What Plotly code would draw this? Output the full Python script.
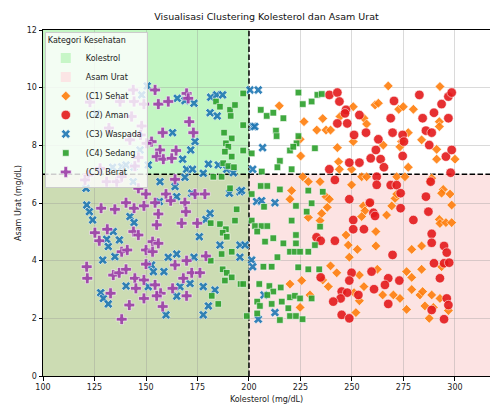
import plotly.graph_objects as go

# ---------------- data ----------------
title_text = "Visualisasi Clustering Kolesterol dan Asam Urat"
x_label = "Kolesterol (mg/dL)"
y_label = "Asam Urat (mg/dL)"
legend_title = "Kategori Kesehatan"
zone_names = ["Kolestrol", "Asam Urat"]
chol_threshold = 200
urat_threshold = 7
x_ticks = [100, 125, 150, 175, 200, 225, 250, 275, 300]
y_ticks = [0, 2, 4, 6, 8, 10, 12]

c1_name = "(C1) Sehat"
c1_x = [214.7, 226.7, 232.9, 235.8, 237.4, 239.6, 224.8, 225.1, 242.9, 243.5, 244.2, 250.6, 250.6, 255.8, 257.1,
        261.2, 262.8, 267.6, 272.7, 274.9, 279.8, 265.2, 274.1, 273.3, 277.3, 283.8, 291.1, 292.4, 292.4, 292.7,
        291.1, 300.0, 277.3, 243.9, 249.8, 226.1, 228.8, 234.5, 249.8, 254.7, 257.1, 271.7, 275.7, 287.9, 288.7,
        294.3, 220.7, 219.9, 237.4, 239.0, 228.8, 234.5, 235.3, 238.0, 255.5, 256.3, 254.7, 258.4, 266.8, 269.3,
        270.9, 271.7, 293.5, 297.6, 298.4, 292.4, 292.7, 295.6, 298.4, 247.1, 248.2, 252.6, 248.7, 261.6, 261.6,
        279.0, 283.8, 239.6, 242.6, 235.8, 238.5, 225.6, 219.9, 229.6, 224.8, 253.6, 255.8, 251.0, 253.6, 251.9,
        262.3, 264.9, 270.1, 273.3, 276.5, 279.0, 279.0, 283.0, 284.3, 288.7, 292.7, 283.8, 293.5, 285.4, 289.5,
        276.5, 287.5, 296.8]
c1_y = [9.37, 8.82, 8.53, 8.93, 8.53, 8.53, 8.21, 7.63, 7.92, 7.43, 9.00, 9.34, 8.13, 8.94, 8.74,
        9.40, 9.46, 10.06, 9.25, 9.34, 9.25, 8.01, 8.13, 7.95, 8.44, 8.19, 7.86, 8.82, 8.65, 10.04,
        7.52, 7.52, 7.24, 7.17, 7.17, 6.91, 6.74, 6.74, 6.63, 6.91, 6.91, 6.91, 6.91, 6.74, 6.86,
        6.47, 6.43, 6.13, 6.22, 6.13, 5.50, 5.39, 5.64, 5.85, 5.90, 5.73, 5.53, 6.00, 5.58, 5.90,
        6.16, 6.31, 6.34, 6.31, 5.93, 5.43, 5.29, 5.32, 5.32, 4.89, 4.54, 4.39, 4.12, 5.01, 4.51,
        4.39, 4.51, 3.82, 3.58, 3.33, 3.10, 3.31, 3.19, 2.81, 2.38, 3.50, 3.10, 2.89, 2.61, 2.20,
        3.70, 2.81, 2.81, 2.69, 3.62, 3.42, 3.00, 2.81, 2.93, 2.81, 2.69, 3.70, 3.79, 2.43, 2.38,
        2.31, 2.00, 2.27]

c2_name = "(C2) Aman"
c2_x = [239.0, 242.9, 243.9, 247.1, 246.6, 242.9, 247.7, 253.6, 256.8, 251.0, 262.8, 261.6, 259.1, 263.9, 265.5,
        270.4, 268.8, 269.7, 274.6, 275.2, 274.6, 282.7, 284.3, 285.9, 288.7, 289.8, 293.5, 296.8, 298.4, 296.8,
        287.5, 295.6, 298.4, 239.0, 248.7, 253.6, 262.0, 262.0, 241.7, 297.9, 288.2, 268.8, 271.7,
        248.7, 258.7, 260.4, 261.2, 273.6, 273.6, 285.9, 287.1, 279.8, 250.6, 250.6, 255.8, 232.8, 234.8, 241.7,
        288.7, 288.7, 294.7, 296.0, 269.7, 289.8, 294.7, 297.2, 292.7, 234.8, 249.8, 248.7, 259.5, 267.6, 273.0,
        266.0, 260.7, 245.0, 247.7, 244.5, 240.9, 253.1, 267.6, 296.0, 296.8, 288.7, 245.0, 248.7, 294.7]
c2_y = [9.75, 9.83, 9.52, 9.23, 9.11, 8.76, 8.76, 9.05, 8.44, 8.36, 8.21, 7.84, 7.55, 7.52, 7.24,
        9.54, 8.94, 8.44, 8.36, 8.13, 7.63, 9.75, 8.94, 8.51, 8.44, 9.13, 9.43, 9.69, 9.83, 8.94,
        8.01, 7.61, 7.84, 7.17, 7.40, 7.40, 6.91, 6.63, 6.80, 7.05, 6.74, 6.62, 6.62,
        6.13, 6.01, 5.66, 5.55, 6.34, 5.82, 6.22, 5.70, 5.41, 5.41, 5.09, 5.09, 4.81, 4.69, 4.69,
        4.93, 4.62, 4.51, 4.28, 4.20, 3.91, 3.91, 3.93, 3.39, 3.42, 3.58, 3.31, 3.62, 3.39, 3.31,
        3.16, 3.01, 2.93, 2.89, 2.69, 2.58, 2.81, 2.50, 2.69, 2.46, 2.29, 2.12, 2.00, 1.97]

c3_name = "(C3) Waspada"
c3_x = [200.5, 204.5, 202.0, 202.8, 206.6, 201.8,
        150.6, 147.9, 165.2, 168.9, 173.3, 181.4, 184.3, 187.2, 181.1, 184.6, 162.9, 173.8, 171.7, 147.1,
        167.8, 151.1, 133.8, 138.2, 140.3, 144.2, 169.7, 172.6, 177.8, 180.3, 185.1, 189.2, 192.4, 143.8,
        156.8, 120.9, 164.1, 168.9,
        164.9, 121.2, 122.5, 124.1, 142.2, 144.2, 134.1, 130.9, 137.1, 131.7, 134.9, 129.0, 152.7, 153.6,
        158.7, 160.8, 164.9, 173.3, 175.9, 179.1, 181.1, 185.9, 195.6, 195.6, 140.3, 151.1, 166.5, 171.4,
        177.8, 183.5, 164.9, 128.0, 129.3, 131.7, 159.7, 177.8, 180.3, 190.5, 195.6, 156.5, 172.2,
        196.4, 203.7, 206.1, 212.6, 198.1, 201.3, 201.8, 207.3, 212.6, 204.5, 126.0]
c3_y = [9.92, 9.92, 8.65, 8.65, 7.92, 7.17,
        10.06, 9.75, 9.63, 9.55, 9.46, 9.67, 9.75, 9.75, 9.13, 9.02, 8.44, 8.13, 7.84, 7.84,
        7.52, 7.32, 7.24, 7.26, 7.32, 7.24, 7.17, 7.17, 7.03, 7.35, 7.32, 7.17, 7.05, 6.74,
        6.74, 6.51, 6.57, 6.89,
        6.22, 5.93, 5.70, 5.41, 5.53, 5.32, 5.01, 4.74, 4.72, 4.49, 4.14, 4.02, 3.85, 3.62,
        3.62, 4.12, 4.23, 4.12, 4.83, 5.43, 5.64, 4.54, 4.54, 4.12, 3.12, 3.10, 3.10, 3.21,
        3.10, 2.98, 2.77, 2.89, 2.69, 2.50, 2.12, 2.12, 2.43, 6.34, 6.39, 6.05, 6.34,
        6.43, 6.05, 6.08, 6.01, 4.54, 4.02, 3.79, 2.81, 2.20, 1.97, 9.10]

c4_name = "(C4) Sedang"
c4_x = [197.2, 197.2, 197.2, 205.7, 208.6, 211.8, 216.7, 213.1, 213.4, 224.0, 226.1, 230.4, 233.2, 235.3, 224.0,
        223.1, 219.9, 221.5, 215.0, 213.8, 220.7, 232.0, 201.3, 206.2,
        184.0, 185.9, 190.8, 193.2, 191.1, 187.9, 191.6, 188.8, 190.0, 188.3, 191.6, 187.5, 190.0, 192.7, 182.7,
        186.7, 190.8,
        194.0, 193.2, 181.4, 185.9, 188.8, 187.2, 189.2, 191.6, 186.7, 181.4, 187.2, 189.2, 191.6, 188.3, 195.9,
        181.9, 185.1,
        205.7, 208.9, 215.0,
        201.3, 228.8, 235.8, 207.3, 222.8, 230.4, 228.0, 201.3, 202.9, 206.1, 208.9, 204.0, 220.7, 207.8, 211.8,
        216.7, 222.8, 222.8, 232.0, 219.9, 222.3, 224.8, 228.8, 234.5, 213.8, 207.0, 211.0, 223.9, 228.8, 234.1,
        197.2, 205.0, 209.9, 211.8, 215.4, 219.9, 222.3, 224.8, 208.9, 204.0, 205.3, 211.0, 215.9, 219.1, 204.0,
        219.9, 222.8, 226.0, 215.0, 198.9, 230.4]
c4_y = [9.80, 8.70, 7.82, 9.23, 9.02, 9.13, 8.94, 8.51, 8.32, 9.83, 9.43, 9.52, 9.75, 9.78, 8.32,
        8.07, 7.82, 7.95, 7.46, 7.24, 7.17, 7.90, 7.72, 7.09,
        9.52, 9.34, 9.23, 9.40, 9.02, 8.44, 8.24, 8.07, 7.95, 7.78, 7.61, 7.38, 7.28, 7.24, 6.91,
        6.91, 6.51,
        5.78, 5.39, 5.30, 5.27, 5.09, 4.97, 4.83, 4.31, 4.23, 4.00, 3.70, 3.58, 3.42, 3.31, 3.19,
        2.78, 2.50,
        6.59, 6.59, 6.47,
        6.31, 6.43, 6.39, 5.87, 5.90, 5.99, 5.70, 5.39, 5.20, 5.20, 5.20, 5.01, 5.39, 4.66, 4.78,
        4.60, 4.89, 4.60, 4.54, 4.31, 4.31, 4.31, 4.31, 5.18, 4.12, 3.79, 3.79, 3.77, 3.70, 3.70,
        3.19, 3.19, 3.12, 2.93, 3.07, 2.73, 2.78, 2.69, 2.81, 2.58, 2.43, 2.50, 2.58, 2.35, 2.17,
        2.08, 2.08, 1.97, 1.94, 2.08, 2.69]

c5_name = "(C5) Berat"
c5_x = [143.8, 154.4, 144.2, 149.0, 156.0, 160.8, 169.7, 170.5, 171.0, 158.1, 173.0, 147.9, 147.4, 152.7, 150.3,
        156.8, 155.2, 158.4, 162.5, 164.6, 146.3, 127.7, 122.0, 120.4, 130.9, 135.8, 138.2, 144.6, 146.3, 164.1,
        137.4, 143.0, 142.2, 122.8, 132.0,
        150.0, 159.7, 162.0, 168.9, 169.4, 173.8, 178.6, 128.2, 134.9, 140.3, 144.2, 149.0, 154.4, 156.0, 155.2,
        167.3, 174.9, 125.2, 131.2, 127.3, 138.2, 140.9, 143.9, 146.3, 150.0, 153.2, 156.0, 153.2, 150.0, 164.1,
        169.7, 172.2, 176.2, 179.1, 121.2, 121.5, 134.1, 137.0, 140.3, 144.6, 145.1, 149.0, 154.4, 157.1, 155.2,
        162.9, 168.1, 169.7, 132.8, 141.9, 149.0, 158.1, 138.2]
c5_y = [9.92, 9.92, 9.52, 9.43, 9.43, 9.52, 9.80, 9.63, 8.82, 8.44, 8.44, 8.67, 8.36, 8.13, 8.07,
        7.84, 7.61, 7.52, 7.55, 7.82, 7.58, 7.20, 6.97, 6.80, 6.74, 6.74, 6.91, 7.28, 6.51, 6.82,
        9.52, 9.00, 8.19, 9.50, 8.60,
        6.31, 6.31, 6.08, 6.01, 5.70, 6.31, 6.31, 5.82, 5.78, 6.01, 5.82, 5.90, 6.01, 5.62, 5.24,
        5.30, 5.30, 4.97, 5.09, 4.69, 4.31, 4.37, 5.01, 4.89, 4.37, 4.66, 4.60, 4.31, 3.88, 3.85,
        4.00, 3.58, 3.58, 4.16, 3.79, 3.39, 3.50, 3.58, 3.70, 3.39, 3.04, 3.33, 3.16, 2.87, 2.78,
        3.04, 3.39, 2.78, 2.87, 2.46, 2.69, 2.41, 1.97]

# ---------------- styles ----------------
FONT = "DejaVu Sans"
green_zone = "rgba(144,238,144,0.55)"
pink_zone = "rgba(240,128,128,0.22)"
x_range = [100, 317]
y_range = [0, 12]
FIG_W, FIG_H = 490, 408

fig = go.Figure()

# zone legend entries
fig.add_trace(go.Scatter(x=[None], y=[None], mode="markers", name=zone_names[0],
                         marker=dict(symbol="square", size=10, color="rgb(199,246,199)")))
fig.add_trace(go.Scatter(x=[None], y=[None], mode="markers", name=zone_names[1],
                         marker=dict(symbol="square", size=10, color="rgb(251,229,229)")))

series = [
    (c1_name, c1_x, c1_y, "diamond", 7.5, "#ff7f0e"),
    (c2_name, c2_x, c2_y, "circle", 9.5, "#e41a1c"),
    (c3_name, c3_x, c3_y, "x", 8, "#1f77b4"),
    (c4_name, c4_x, c4_y, "square", 6.5, "#2ca02c"),
    (c5_name, c5_x, c5_y, "cross", 9, "#9c3da8"),
]
for name, xs, ys, sym, sz, col in series:
    fig.add_trace(go.Scatter(
        x=xs, y=ys, mode="markers", name=name,
        marker=dict(symbol=sym, size=sz, color=col, opacity=0.9,
                    line=dict(color="white", width=0.6)),
    ))

shapes = [
    dict(type="rect", xref="x", yref="y", x0=x_range[0], x1=chol_threshold, y0=y_range[0], y1=y_range[1],
         fillcolor=green_zone, line=dict(width=0), layer="below"),
    dict(type="rect", xref="x", yref="y", x0=x_range[0], x1=x_range[1], y0=y_range[0], y1=urat_threshold,
         fillcolor=pink_zone, line=dict(width=0), layer="below"),
    dict(type="line", xref="x", yref="y", x0=chol_threshold, x1=chol_threshold, y0=y_range[0], y1=y_range[1],
         line=dict(color="black", width=1.5, dash="5.5px,2.4px"), layer="between"),
    dict(type="line", xref="x", yref="y", x0=x_range[0], x1=x_range[1], y0=urat_threshold, y1=urat_threshold,
         line=dict(color="black", width=1.5, dash="5.5px,2.4px"), layer="between"),
]

fig.update_layout(
    width=FIG_W, height=FIG_H,
    margin=dict(l=43, r=0, t=30, b=32, autoexpand=False),
    paper_bgcolor="white", plot_bgcolor="white",
    font=dict(family=FONT, size=8, color="#222"),
    title=dict(text=title_text, x=0.5, xref="paper", xanchor="center",
               y=1 - 17 / FIG_H, yref="container", yanchor="middle",
               font=dict(family=FONT, size=9.5, color="#111")),
    shapes=shapes,
    showlegend=True,
    legend=dict(
        title=dict(text=legend_title, font=dict(size=8, family=FONT)),
        x=0.004, y=0.994, xanchor="left", yanchor="top",
        bgcolor="rgba(255,255,255,0.8)", bordercolor="#cccccc", borderwidth=1,
        font=dict(size=8, family=FONT, color="#222"),
        itemwidth=30, tracegroupgap=0,
    ),
    xaxis=dict(
        range=x_range, tickvals=x_ticks, ticks="outside", ticklen=3.5, tickcolor="black",
        showline=True, linecolor="black", linewidth=1, mirror=True, automargin=False,
        showgrid=True, gridcolor="rgba(150,150,150,0.35)", gridwidth=1, zeroline=False,
        title=dict(text=x_label, standoff=5, font=dict(size=8, family=FONT)),
        tickfont=dict(size=8, family=FONT),
    ),
    yaxis=dict(
        range=y_range, tickvals=y_ticks, ticks="outside", ticklen=3.5, tickcolor="black",
        showline=True, linecolor="black", linewidth=1, mirror=False, automargin=False,
        showgrid=True, gridcolor="rgba(150,150,150,0.35)", gridwidth=1, zeroline=False,
        title=dict(text=y_label, standoff=3, font=dict(size=8, family=FONT)),
        tickfont=dict(size=8, family=FONT),
    ),
)

# remove the default page margin / scrollbars so the figure fills the 490x408 window
fig.write_html(
    "out.html",
    config={"displayModeBar": False},
    post_script="document.body.style.margin='0';document.body.style.overflow='hidden';"
                "document.documentElement.style.overflow='hidden';",
)
